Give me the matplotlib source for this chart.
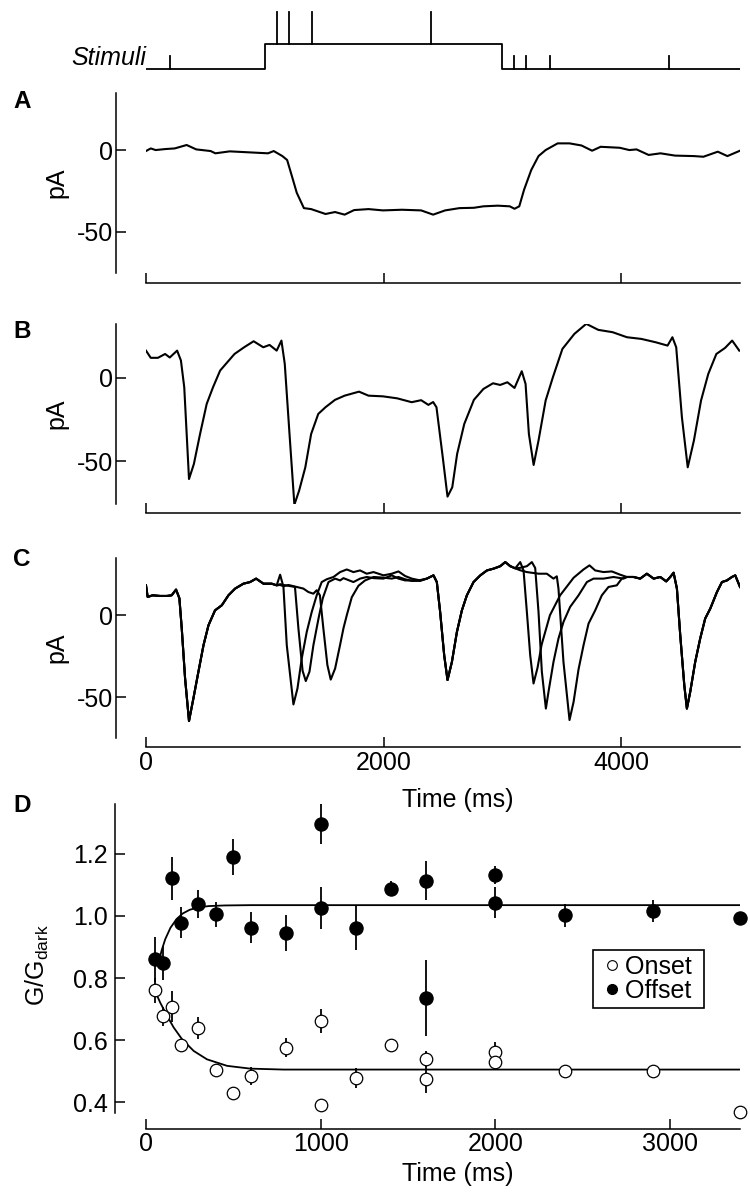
import numpy as np
import matplotlib
matplotlib.use('Agg')
import matplotlib.pyplot as plt
from matplotlib.lines import Line2D

plt.rcParams['font.family'] = ['Liberation Sans', 'DejaVu Sans']
plt.rcParams['mathtext.fontset'] = 'custom'
plt.rcParams['mathtext.rm'] = 'Liberation Sans'
plt.rcParams['mathtext.it'] = 'Liberation Sans:italic'
plt.rcParams['axes.unicode_minus'] = False

# ---- stimulus protocol (ms) ----
stim_edges = [0, 1000, 3000, 5000]
stim_levels = [0, 1, 0, 0]
flash_times = [200, 1100, 1200, 1400, 2400, 3100, 3200, 3400, 4400]

# ---- panel A: light step response (ms, pA) ----
a_t = [0, 40, 81, 161, 242, 342, 423, 544, 584, 705, 866, 1027, 1075, 1148, 1188,
       1229, 1269, 1329, 1390, 1511, 1591, 1672, 1752, 1873, 1994, 2155, 2316, 2417,
       2518, 2639, 2760, 2840, 2961, 3062, 3102, 3142, 3183, 3243, 3304, 3364, 3465,
       3565, 3666, 3755, 3827, 3988, 4068, 4129, 4231, 4331, 4453, 4612, 4692, 4813,
       4894, 5000]
a_v = [-0.4, 1.2, 0.2, 0.8, 1.2, 3.3, 0.6, -0.4, -1.8, -0.6, -1.2, -1.8, -0.4, -3.5, -5.9,
       -16, -26, -35.4, -36, -39, -37.8, -39.4, -36.6, -36, -36.8, -36.4, -36.8, -39.4,
       -36.8, -35.4, -35.2, -34.3, -33.9, -34.3, -35.8, -34.3, -24, -12, -3.5, 0.2, 4.3,
       4.3, 3, -0.2, 2.2, 1.6, 0.2, 0.6, -2.8, -1.8, -3.2, -3.5, -3.9, -0.8,
       -3.5, -0.2]

# ---- panel B: single trace ----
b_t = [0, 40, 100, 161, 200, 262, 294, 322, 362, 403, 455, 511, 564, 624, 685, 745, 826,
       906, 987, 1040, 1100, 1140, 1168, 1208, 1249, 1289, 1341, 1390, 1450, 1511, 1591,
       1672, 1793, 1873, 1994, 2115, 2236, 2316, 2377, 2417, 2445, 2498, 2538, 2578, 2619,
       2679, 2760, 2840, 2921, 2981, 3042, 3102, 3163, 3195, 3223, 3263, 3304, 3364, 3425,
       3505, 3606, 3706, 3807, 3928, 4048, 4169, 4290, 4390, 4431, 4463, 4511, 4560, 4612,
       4672, 4733, 4801, 4874, 4934, 4994]
b_v = [16.1, 11.8, 11.8, 14.1, 12.0, 16.1, 10.2, -5.8, -60.6, -51.6, -33.7, -15.7, -5.8, 4.2,
       9.2, 14.1, 18.1, 21.7, 18.1, 19.5, 16.1, 22.1, 8.2, -33.7, -75.9, -67.5, -53.6, -33.7,
       -21.7, -17.7, -13.3, -10.8, -8.4, -10.8, -11.2, -12.4, -14.7, -13.5, -16.3, -14.6,
       -17.7, -47.6, -71.1, -65.5, -45.6, -27.7, -13.3, -6.8, -3.4, -4.4, -2.8, -6.2, 3.8,
       -3.8, -33.7, -52.2, -37.6, -13.7, 0.2, 17.1, 26.1, 32.1, 28.5, 27.1, 24.1, 23.1, 21.1,
       19.1, 24.1, 18.1, -23.7, -53.6, -37.6, -13.7, 2.2, 14.1, 17.7, 22.1, 16.1]

# ---- panel C: three traces, shared segments + per-trace segments ----
c_pre_t = [0, 14, 56, 118, 175, 216, 253, 281, 301, 329, 362, 399, 441, 484, 526, 581,
           638, 694, 750, 820, 876, 927, 989, 1058, 1100]
c_pre_v = [18.3, 11.2, 12.2, 11.8, 11.8, 12.2, 15.7, 10.4, -8.1, -38.6, -64.6, -50.8,
           -34.6, -18.3, -6.1, 3.0, 6.1, 12.2, 16.3, 19.3, 20.3, 22.4, 19.3, 19.3, 18.3]
c_mid_t = [2448, 2476, 2510, 2538, 2575, 2617, 2659, 2701, 2757, 2814, 2870, 2926, 2982,
           3024, 3066, 3108]
c_mid_v = [20.3, 2.0, -24.4, -39.6, -28.5, -10.2, 3.0, 12.2, 20.3, 24.4, 27.4, 28.5, 30.0,
           32.5, 30.0, 28.7]
c_post_t = [4048, 4104, 4160, 4216, 4273, 4329, 4379, 4413, 4441, 4469, 4497, 4531, 4553,
            4581, 4623, 4665, 4707, 4750, 4806, 4848, 4890, 4932, 4960, 5000]
c_post_v = [23.4, 23.4, 22.4, 25.4, 22.4, 23.4, 20.7, 23.4, 26.0, 16.3, -12.2, -42.7, -57,
            -46.8, -28.5, -14.2, -2.0, 4.1, 14.2, 20.3, 21.3, 23.4, 24.4, 17.3]

c1_on_t = [1129, 1157, 1185, 1241, 1275, 1311, 1353, 1395, 1437, 1479, 1521, 1578, 1634,
           1690, 1746, 1802, 1858, 1915, 1999, 2069, 2125, 2181, 2237, 2308, 2364, 2420]
c1_on_v = [24.8, 17.3, -18.3, -54.5, -44.7, -26.4, -10.2, 2.0, 12.2, 20.3, 22.0, 23.4, 26.4,
           28.0, 26.4, 27.4, 25.4, 26.4, 24.4, 25.4, 26.8, 24.0, 22.4, 21.3, 22.4, 24.4]
c2_on_t = [1129, 1157, 1200, 1254, 1283, 1318, 1345, 1376, 1409, 1452, 1488, 1536, 1592,
           1634, 1662, 1746, 1802, 1858, 1915, 1999, 2069, 2125, 2181, 2237, 2308, 2364, 2420]
c2_on_v = [19.0, 18.5, 18.0, 17.3, -8.1, -33.9, -40.2, -34.5, -18.3, -2.0, 10.4, 20.3, 22.4,
           21.3, 22.7, 20.3, 22.4, 23.4, 22.7, 22.4, 24.4, 22.4, 21.3, 21.3, 21.5, 22.4, 24.4]
c3_on_t = [1129, 1157, 1200, 1269, 1325, 1367, 1409, 1437, 1464, 1493, 1527, 1555, 1592,
           1634, 1662, 1690, 1732, 1788, 1844, 1915, 1999, 2069, 2125, 2181, 2237, 2308,
           2364, 2420]
c3_on_v = [18.5, 17.8, 18.5, 17.3, 16.3, 14.2, 13.2, 15.3, 12.2, -8.1, -30.5, -39.3, -32.5,
           -18.0, -8.0, 0.0, 11.0, 18.0, 21.3, 23.4, 23.0, 22.4, 23.4, 22.0, 21.0, 21.0,
           22.4, 24.4]

c1_off_t = [3150, 3178, 3206, 3234, 3262, 3296, 3330, 3400, 3486, 3599, 3683, 3733, 3781,
            3851, 3921, 3991]
c1_off_v = [32.5, 27.4, 2.0, -24.4, -41.7, -32.0, -18.0, 0.0, 12.2, 22.9, 28.0, 30.5, 27.4,
            26.4, 26.8, 24.8]
c2_off_t = [3150, 3206, 3248, 3276, 3304, 3332, 3366, 3388, 3430, 3472, 3514, 3570, 3641,
            3711, 3767, 3851, 3935, 4020]
c2_off_v = [29.0, 30.0, 32.5, 28.9, 2.0, -34.5, -57.0, -46.8, -28.5, -14.2, -4.1, 5.1, 12.2,
            20.3, 22.4, 22.4, 23.4, 22.4]
c3_off_t = [3150, 3206, 3304, 3374, 3430, 3458, 3472, 3514, 3565, 3599, 3641, 3683, 3725,
            3781, 3837, 3893, 3963, 4005]
c3_off_v = [27.5, 26.4, 25.4, 25.4, 22.4, 23.8, 16.3, -28.5, -64.0, -53.0, -33.0, -18.3,
            -5.1, 3.0, 12.2, 17.3, 18.3, 22.4]

# ---- panel D: normalized conductance vs time after step ----
onset_t = [50, 100, 150, 200, 300, 400, 500, 600, 800, 1000, 1000, 1200, 1400, 1600, 1600,
           2000, 2000, 2400, 2900, 3400]
onset_g = [0.76, 0.677, 0.707, 0.584, 0.639, 0.503, 0.429, 0.484, 0.576, 0.661, 0.392, 0.478,
           0.584, 0.539, 0.474, 0.562, 0.528, 0.50, 0.50, 0.369]
onset_err = [0.04, 0.03, 0.05, 0.02, 0.035, 0.02, 0.01, 0.028, 0.03, 0.038, 0.0, 0.032, 0.01,
             0.025, 0.045, 0.032, 0.025, 0.0, 0.0, 0.0]
offset_t = [50, 100, 150, 200, 300, 400, 500, 600, 800, 1000, 1000, 1200, 1400, 1600, 1600,
            2000, 2000, 2400, 2900, 3400]
offset_g = [0.86, 0.848, 1.121, 0.978, 1.04, 1.005, 1.191, 0.962, 0.944, 1.297, 1.025, 0.961,
            1.088, 1.113, 0.735, 1.132, 1.043, 1.003, 1.016, 0.995]
offset_err = [0.072, 0.055, 0.069, 0.05, 0.045, 0.04, 0.058, 0.05, 0.058, 0.065, 0.067, 0.07,
              0.025, 0.063, 0.123, 0.03, 0.05, 0.037, 0.035, 0.01]
fit_off_t = [73, 90, 110, 140, 175, 210, 250, 300, 360, 450, 600, 3400]
fit_off_g = [0.852, 0.89, 0.925, 0.962, 0.99, 1.008, 1.02, 1.028, 1.032, 1.034, 1.035, 1.035]
fit_on_t = [50, 82, 120, 158, 206, 273, 349, 464, 597, 788, 1000, 3400]
fit_on_g = [0.76, 0.72, 0.679, 0.641, 0.603, 0.565, 0.538, 0.517, 0.508, 0.505, 0.505, 0.505]

W, H = 750, 1201
fig = plt.figure(figsize=(7.5, 12.01), dpi=100)
FS = 18
LW = 1.5


def add_ax(x0, x1, ytop, ybot):
    return fig.add_axes([x0 / W, 1 - ybot / H, (x1 - x0) / W, (ybot - ytop) / H])


def style(ax, left_out, bottom_out, pad_y=2, pad_x=3):
    for s in ['top', 'right']:
        ax.spines[s].set_visible(False)
    ax.spines['left'].set_position(('outward', left_out * 0.72))
    ax.spines['bottom'].set_position(('outward', bottom_out * 0.72))
    for s in ['left', 'bottom']:
        ax.spines[s].set_linewidth(1.1)
    ax.tick_params(direction='in', length=7, width=1.1, labelsize=FS)
    ax.tick_params(axis='y', pad=pad_y)
    ax.tick_params(axis='x', pad=pad_x)
    ax.patch.set_visible(False)


# stimulus diagram
ax_s = add_ax(146, 740, 8, 72)
ax_s.axis('off')
ax_s.set_xlim(0, 5000)
ax_s.set_ylim(-0.1, 2.44)
ax_s.step(stim_edges, stim_levels, where='post', color='k', lw=1.3)
for ft in flash_times:
    base = 1 if 1000 <= ft < 3000 else 0
    top = base + (1.27 if base else 0.54)
    ax_s.plot([ft, ft], [base, top], color='k', lw=1.3)
fig.text(146 / W, 1 - 65 / H, 'Stimuli', ha='right', va='baseline',
         fontsize=FS, style='italic')

# panels A-C
specs = [
    ('A', 93.3, 272.7, (-75, 35), 10, [(a_t, a_v)]),
    ('B', 324, 504, (-75.5, 32), 9, [(b_t, b_v)]),
    ('C', 558, 738, (-75, 35), 9, [
        (c_pre_t + c1_on_t + c_mid_t + c1_off_t + c_post_t,
         c_pre_v + c1_on_v + c_mid_v + c1_off_v + c_post_v),
        (c_pre_t + c2_on_t + c_mid_t + c2_off_t + c_post_t,
         c_pre_v + c2_on_v + c_mid_v + c2_off_v + c_post_v),
        (c_pre_t + c3_on_t + c_mid_t + c3_off_t + c_post_t,
         c_pre_v + c3_on_v + c_mid_v + c3_off_v + c_post_v),
    ]),
]
letter_y = {'A': 102, 'B': 332, 'C': 560, 'D': 806}
for name, ytop, ybot, ylim, bout, traces in specs:
    ax = add_ax(146, 740, ytop, ybot)
    style(ax, 30, bout)
    for tt, vv in traces:
        ax.plot(tt, vv, color='k', lw=LW)
    ax.set_xlim(0, 5000)
    ax.set_ylim(*ylim)
    ax.set_yticks([-50, 0])
    ax.set_xticks([0, 2000, 4000])
    ax.set_ylabel('pA', fontsize=FS, va='center')
    ax.yaxis.set_label_coords(-0.15, 0.5)
    if name != 'C':
        ax.set_xticklabels([])
    else:
        ax.set_xlabel('Time (ms)', fontsize=FS, va='center')
        ax.xaxis.set_label_coords(0.525, -0.344)
    fig.text(22 / W, 1 - letter_y[name] / H, name, ha='center', va='center',
             fontsize=17.5, fontweight='bold')

# panel D
ax_d = add_ax(146, 740, 804, 1113)
style(ax_d, 31, 16, pad_y=5, pad_x=2)
ax_d.plot(fit_off_t, fit_off_g, color='k', lw=1.3)
ax_d.plot(fit_on_t, fit_on_g, color='k', lw=1.3)
eb1 = ax_d.errorbar(onset_t, onset_g, yerr=onset_err, fmt='o', ms=9, mfc='white',
                    mec='black', mew=0.9, ecolor='black', elinewidth=1.3, capsize=0)
eb2 = ax_d.errorbar(offset_t, offset_g, yerr=offset_err, fmt='o', ms=9.5, mfc='black',
                    mec='black', mew=0.9, ecolor='black', elinewidth=1.3, capsize=0)
for eb in (eb1, eb2):
    for art in eb.get_children():
        art.set_clip_on(False)
ax_d.set_xlim(0, 3400)
ax_d.set_ylim(0.365, 1.361)
ax_d.set_xticks([0, 1000, 2000, 3000])
ax_d.set_yticks([0.4, 0.6, 0.8, 1.0, 1.2])
ax_d.set_yticklabels(['0.4', '0.6', '0.8', '1.0', '1.2'])
ax_d.set_ylabel(r'G/G$_{\mathrm{dark}}$', fontsize=FS, va='center')
ax_d.yaxis.set_label_coords(-0.182, 0.479)
ax_d.set_xlabel('Time (ms)', fontsize=FS, va='center')
ax_d.xaxis.set_label_coords(0.525, -0.197)
handles = [Line2D([], [], ls='none', marker='o', ms=7, mfc='white', mec='black', mew=0.8),
           Line2D([], [], ls='none', marker='o', ms=7, mfc='black', mec='black')]
leg = ax_d.legend(handles, ['Onset ', 'Offset '], loc='upper left',
                  bbox_to_anchor=(0.7525, 0.5275), borderaxespad=0, fontsize=FS,
                  frameon=True, fancybox=False, framealpha=1, edgecolor='black',
                  borderpad=0.2, handlelength=1.1, handletextpad=0.0,
                  labelspacing=0.0)
leg.get_frame().set_linewidth(1.2)
fig.text(22 / W, 1 - letter_y['D'] / H, 'D', ha='center', va='center',
         fontsize=17.5, fontweight='bold')

fig.savefig('out.png', dpi=100)
